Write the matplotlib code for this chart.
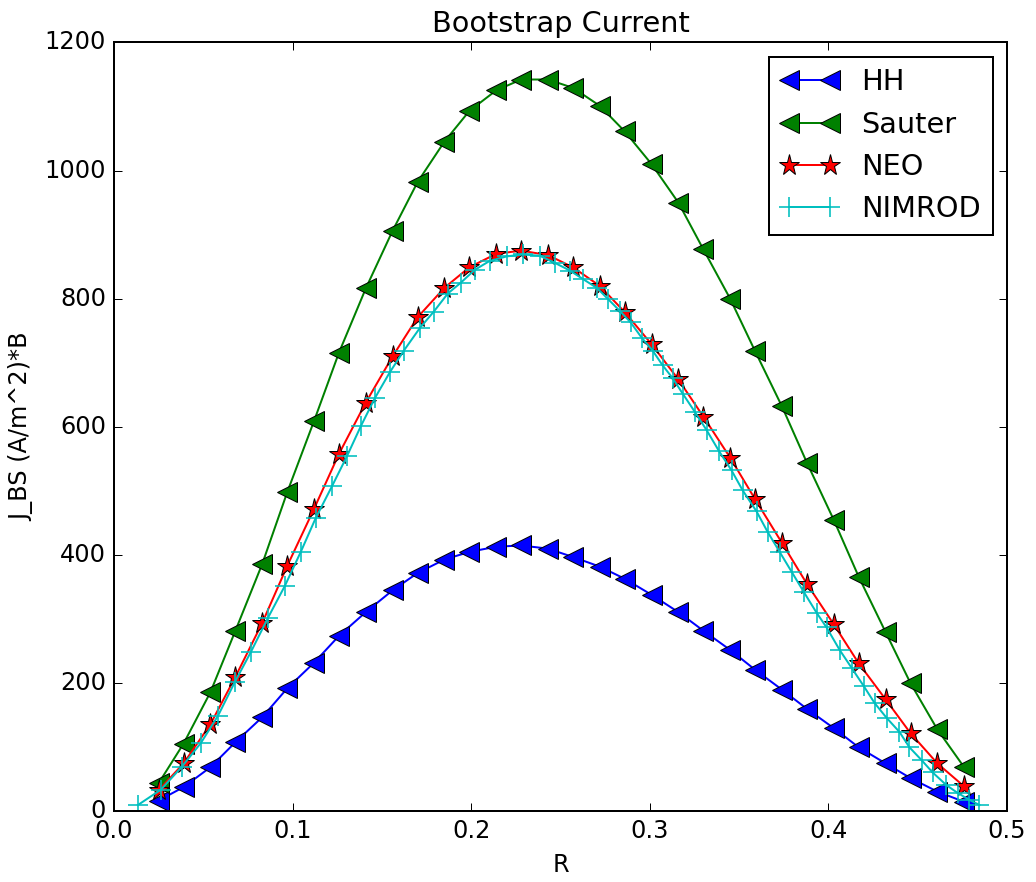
import matplotlib
matplotlib.use('Agg')
import matplotlib.pyplot as plt

# radial grid shared by HH, Sauter and NEO
r = [0.025, 0.039, 0.054, 0.068, 0.083, 0.097, 0.112, 0.126, 0.141, 0.156,
     0.170, 0.185, 0.199, 0.214, 0.228, 0.243, 0.257, 0.272, 0.286, 0.301,
     0.316, 0.330, 0.345, 0.359, 0.374, 0.388, 0.403, 0.417, 0.432, 0.446,
     0.461, 0.476]

hh = [17, 38, 69, 108, 147, 192, 232, 274, 311, 345, 372, 393, 405, 413, 415,
      410, 397, 382, 363, 338, 311, 282, 252, 221, 190, 160, 130, 100, 75, 52,
      31, 15]

sauter = [44, 106, 186, 282, 386, 498, 609, 716, 816, 906, 982, 1045, 1093,
          1125, 1142, 1142, 1129, 1101, 1061, 1010, 950, 877, 800, 718, 632,
          544, 455, 366, 280, 200, 128, 69]

neo = [33, 75, 136, 210, 294, 383, 472, 558, 638, 710, 771, 817, 849, 870,
       875, 868, 849, 820, 779, 729, 674, 616, 552, 487, 419, 355, 292, 231,
       175, 122, 75, 39]

# NIMROD has its own (non-uniform) grid
r_nim = [0.0134, 0.0263, 0.0381, 0.0487, 0.0582, 0.0677, 0.0767, 0.0862,
         0.0957, 0.1046, 0.1130, 0.1220, 0.1304, 0.1382, 0.1461, 0.1544,
         0.1623, 0.1712, 0.1791, 0.1869, 0.1942, 0.2020, 0.2104, 0.2199,
         0.2289, 0.2384, 0.2468, 0.2552, 0.2624, 0.2703, 0.2764, 0.2832,
         0.2893, 0.2955, 0.3016, 0.3072, 0.3128, 0.3184, 0.3251, 0.3318,
         0.3386, 0.3458, 0.3520, 0.3598, 0.3660, 0.3727, 0.3794, 0.3861,
         0.3934, 0.3990, 0.4063, 0.4130, 0.4197, 0.4259, 0.4326, 0.4398,
         0.4454, 0.4522, 0.4583, 0.4661, 0.4723, 0.4790, 0.4846]

nimrod = [10, 34, 70, 107, 149, 202, 249, 302, 352, 405, 458, 507, 554, 601,
          645, 685, 719, 754, 780, 808, 825, 845, 859, 866, 869, 867, 856, 844,
          831, 817, 800, 781, 763, 739, 719, 696, 676, 652, 624, 595, 563, 532,
          501, 468, 436, 405, 374, 343, 310, 287, 252, 224, 196, 169, 146, 124,
          100, 80, 61, 41, 29, 18, 10]

plt.style.use('classic')
fig = plt.figure(figsize=(1036 / 144, 882 / 144), dpi=144)
ax = fig.add_axes([0.110, 0.080, 0.862, 0.872])

ax.plot(r, hh, 'b<-', ms=10, mec='k', mew=0.5, lw=1.0, label='HH')
ax.plot(r, sauter, 'g<-', ms=10, mec='k', mew=0.5, lw=1.0, label='Sauter')
ax.plot(r, neo, 'r*-', ms=11, mec='k', mew=0.5, lw=1.0, label='NEO')
ax.plot(r_nim, nimrod, 'c+-', ms=10, mec='c', mew=0.8, lw=1.0, label='NIMROD')

ax.set_xlim(0, 0.5)
ax.set_ylim(0, 1200)
ax.set_title('Bootstrap Current')
ax.set_xlabel('R')
ax.set_ylabel('J_BS (A/m^2)*B')
ax.legend(loc='upper right', numpoints=2, fontsize=14.4)

fig.savefig('out.png', dpi=144, facecolor='white')
